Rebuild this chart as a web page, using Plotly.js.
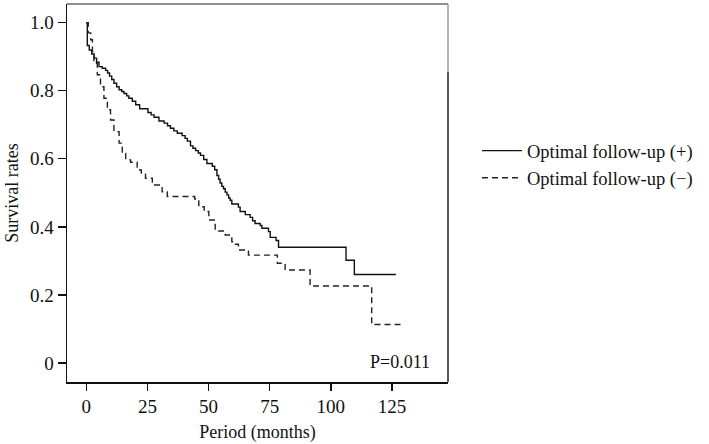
<!DOCTYPE html>
<html>
<head>
<meta charset="utf-8">
<script src="https://cdn.plot.ly/plotly-3.0.1.min.js"></script>
<style>html,body{margin:0;padding:0;background:#fff;}#chart{width:709px;height:444px;}</style>
</head>
<body>
<div id="chart"></div>
<script>
// Optimal follow-up (+): step times (months) and survival after each step
const posTime = [0, 0.4, 1.2, 2.2, 3.2, 4.2, 5.2, 6.5, 7.9, 8.7, 9.5, 10.4, 11.3, 12.4, 13.4, 14.5, 15.4, 16.5, 17.4, 18.8, 20.2, 21.8, 25.2, 26.5, 27.7, 29.7, 31.8, 33.2, 34.4, 35.8, 37.2, 39.2, 40.4, 41.3, 42.6, 43.6, 44.7, 45.8, 46.7, 48.0, 49.3, 51.5, 52.5, 53.4, 54.1, 54.7, 55.4, 56.1, 56.8, 57.5, 58.2, 58.8, 59.5, 62.2, 62.9, 65.0, 67.0, 68.0, 69.0, 71.1, 71.8, 74.5, 75.2, 77.6, 78.6, 106.2, 109.6, 126.6];
const posSurv = [1.0, 0.933, 0.92, 0.908, 0.896, 0.884, 0.871, 0.866, 0.860, 0.852, 0.843, 0.833, 0.822, 0.812, 0.803, 0.798, 0.792, 0.785, 0.778, 0.769, 0.759, 0.747, 0.736, 0.729, 0.722, 0.711, 0.705, 0.697, 0.690, 0.682, 0.675, 0.668, 0.660, 0.652, 0.638, 0.631, 0.624, 0.617, 0.610, 0.598, 0.586, 0.578, 0.568, 0.551, 0.540, 0.529, 0.519, 0.512, 0.502, 0.494, 0.485, 0.478, 0.467, 0.458, 0.445, 0.436, 0.428, 0.418, 0.410, 0.404, 0.396, 0.386, 0.369, 0.360, 0.340, 0.302, 0.260, 0.260];

// Optimal follow-up (−)
const negTime = [0, 0.8, 1.8, 2.5, 3.1, 4.5, 5.8, 7.2, 8.6, 9.9, 11.3, 13.4, 14.7, 16.1, 18.1, 20.8, 22.5, 24.2, 27.0, 31.0, 33.1, 44.3, 46.0, 48.2, 50.1, 52.7, 56.8, 59.5, 60.2, 62.2, 66.3, 78.1, 81.3, 91.5, 116.7, 129.0];
const negSurv = [1.0, 0.97, 0.95, 0.915, 0.881, 0.847, 0.812, 0.778, 0.744, 0.714, 0.680, 0.646, 0.616, 0.597, 0.590, 0.567, 0.555, 0.543, 0.523, 0.503, 0.489, 0.482, 0.459, 0.445, 0.420, 0.388, 0.376, 0.356, 0.349, 0.332, 0.317, 0.293, 0.273, 0.226, 0.113, 0.113];

const seriesNames = ["Optimal follow-up (+)", "Optimal follow-up (\u2212)"];
const xTicks = [0, 25, 50, 75, 100, 125];
const yTicks = [0, 0.2, 0.4, 0.6, 0.8, 1.0];
const yTickText = ["0", "0.2", "0.4", "0.6", "0.8", "1.0"];
const pValueText = "P=0.011";

const FONT = "Liberation Serif, Times New Roman, serif";

const traces = [
  {x: posTime, y: posSurv, name: seriesNames[0], type: "scatter", mode: "lines",
   line: {shape: "hv", color: "#111111", width: 1.4}},
  {x: negTime, y: negSurv, name: seriesNames[1], type: "scatter", mode: "lines",
   line: {shape: "hv", color: "#222222", width: 1.4, dash: "6px,4px"}}
];

const layout = {
  width: 709, height: 444,
  margin: {l: 67, r: 261, t: 4, b: 62},
  paper_bgcolor: "#ffffff", plot_bgcolor: "#ffffff",
  font: {family: FONT, color: "#111111", size: 18},
  showlegend: true,
  legend: {x: 1.076, xanchor: "left", y: 0.575, yanchor: "middle",
           font: {family: FONT, size: 18.5, color: "#111111"},
           bgcolor: "rgba(0,0,0,0)", borderwidth: 0, itemwidth: 40, tracegroupgap: 0},
  xaxis: {
    range: [-7.9, 147.9], tickvals: xTicks, ticktext: xTicks.map(String),
    showgrid: false, zeroline: false, showline: true, linecolor: "#111111", linewidth: 1.5,
    ticks: "outside", ticklen: 7, tickwidth: 1.3, tickcolor: "#111111",
    tickfont: {family: FONT, size: 19},
    title: {text: "Period (months)", font: {family: FONT, size: 18}, standoff: 9}
  },
  yaxis: {
    range: [-0.056, 1.055], tickvals: yTicks, ticktext: yTickText,
    showgrid: false, zeroline: false, showline: true, linecolor: "#111111", linewidth: 1.5,
    ticks: "outside", ticklen: 8, tickwidth: 1.3, tickcolor: "#111111",
    tickfont: {family: FONT, size: 19},
    title: {text: "Survival rates", font: {family: FONT, size: 18}, standoff: 6}
  },
  shapes: [
    {type: "line", xref: "paper", yref: "paper", x0: 0, x1: 1, y0: 1, y1: 1, line: {color: "#6a6a6a", width: 1.5}},
    {type: "line", xref: "paper", yref: "paper", x0: 1, x1: 1, y0: 0.82, y1: 1, line: {color: "#8a8a8a", width: 1.3}},
    {type: "line", xref: "paper", yref: "paper", x0: 1, x1: 1, y0: 0, y1: 0.82, line: {color: "#222222", width: 1.5}}
  ],
  annotations: [
    {text: pValueText, xref: "paper", yref: "paper", x: 0.958, y: 0.053,
     xanchor: "right", yanchor: "middle", showarrow: false,
     font: {family: FONT, size: 18, color: "#111111"}}
  ]
};

Plotly.newPlot("chart", traces, layout, {displayModeBar: false, staticPlot: true});
</script>
</body>
</html>
